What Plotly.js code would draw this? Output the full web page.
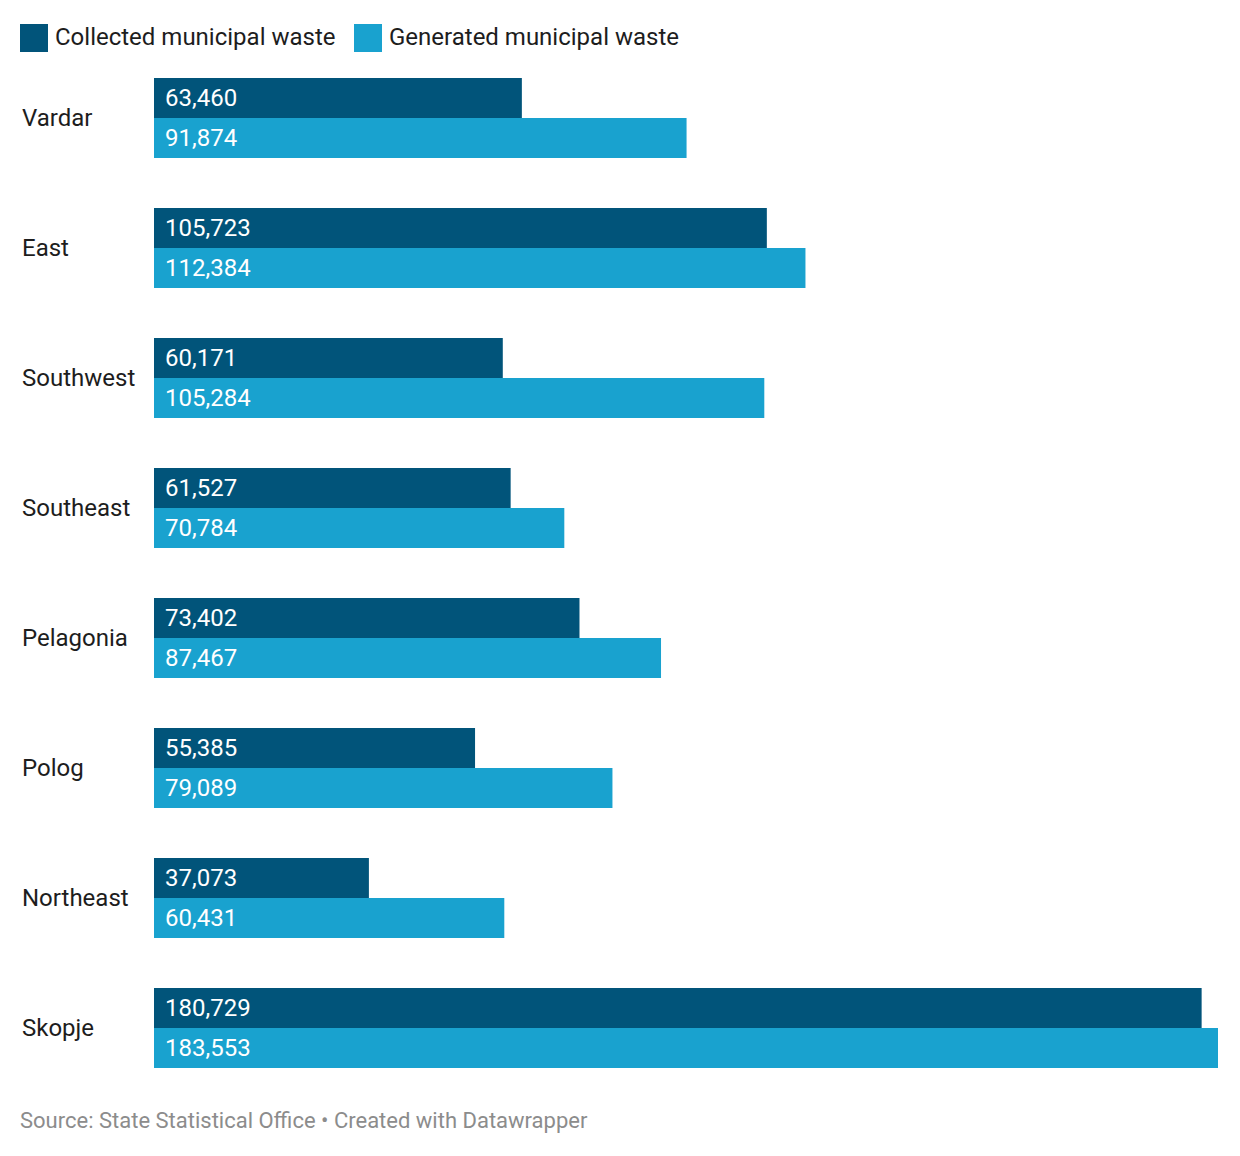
<!DOCTYPE html>
<html>
<head>
<meta charset="utf-8">
<script src="https://cdn.plot.ly/plotly-3.0.1.min.js"></script>
<style>
  html, body { margin: 0; padding: 0; background: #fff; }
  #chart { width: 1240px; height: 1156px; }
</style>
</head>
<body>
<div id="chart"></div>
<script>
const regions = ["Vardar", "East", "Southwest", "Southeast", "Pelagonia", "Polog", "Northeast", "Skopje"];
const collected = [63460, 105723, 60171, 61527, 73402, 55385, 37073, 180729];
const generated = [91874, 112384, 105284, 70784, 87467, 79089, 60431, 183553];
const seriesNames = ["Collected municipal waste", "Generated municipal waste"];
const seriesColors = ["#01547a", "#19a2cf"];
const sourceText = "Source: State Statistical Office • Created with Datawrapper";

const W = 1240, H = 1156;
const mL = 154, mR = 22, mT = 53, mB = 63;
const pw = W - mL - mR, ph = H - mT - mB;
const px = x => (x - mL) / pw;
const py = y => (H - mB - y) / ph;

const fmt = v => v.toLocaleString('en-US');

const traces = [
  { type: 'bar', orientation: 'h', name: seriesNames[0], y: regions, x: collected,
    marker: { color: seriesColors[0] }, hoverinfo: 'none' },
  { type: 'bar', orientation: 'h', name: seriesNames[1], y: regions, x: generated,
    marker: { color: seriesColors[1] }, hoverinfo: 'none' }
];

const annotations = [];
regions.forEach((r, i) => {
  annotations.push({ x: 0, y: r, xref: 'x', yref: 'y', text: fmt(collected[i]), showarrow: false,
    xanchor: 'left', yanchor: 'middle', xshift: 9, yshift: 20,
    font: { family: 'Roboto', size: 24, color: '#ffffff' } });
  annotations.push({ x: 0, y: r, xref: 'x', yref: 'y', text: fmt(generated[i]), showarrow: false,
    xanchor: 'left', yanchor: 'middle', xshift: 9, yshift: -20,
    font: { family: 'Roboto', size: 24, color: '#ffffff' } });
  annotations.push({ x: px(22), y: r, xref: 'paper', yref: 'y', text: r, showarrow: false,
    xanchor: 'left', yanchor: 'middle', xshift: -2,
    font: { family: 'Roboto', size: 24, color: '#1d1d1d' } });
});

const legendSquares = [20, 354];
const shapes = [];
seriesNames.forEach((n, i) => {
  const x0 = legendSquares[i];
  shapes.push({ type: 'rect', xref: 'paper', yref: 'paper',
    x0: px(x0), x1: px(x0 + 28), y0: py(52), y1: py(24),
    fillcolor: seriesColors[i], line: { width: 0 } });
  annotations.push({ x: px(x0 + 33), y: py(37), xref: 'paper', yref: 'paper', text: n,
    showarrow: false, xanchor: 'left', yanchor: 'middle', xshift: 0,
    font: { family: 'Roboto', size: 24, color: '#1d1d1d' } });
});

annotations.push({ x: px(20), y: py(1120), xref: 'paper', yref: 'paper', text: sourceText,
  showarrow: false, xanchor: 'left', yanchor: 'middle', xshift: -2,
  font: { family: 'Roboto', size: 22, color: '#8c8c8c' } });

const layout = {
  width: W, height: H,
  margin: { l: mL, r: mR, t: mT, b: mB, pad: 0 },
  paper_bgcolor: '#ffffff', plot_bgcolor: '#ffffff',
  font: { family: 'Roboto', size: 24, color: '#1d1d1d' },
  barmode: 'group', bargap: 50 / 130, bargroupgap: 0,
  showlegend: false,
  xaxis: { range: [0, 183553], showgrid: false, zeroline: false, showticklabels: false,
    ticks: '', showline: false, fixedrange: true },
  yaxis: { autorange: 'reversed', showgrid: false, zeroline: false, showticklabels: false,
    ticks: '', showline: false, fixedrange: true },
  annotations: annotations,
  shapes: shapes
};

Plotly.newPlot('chart', traces, layout, { displayModeBar: false, staticPlot: true });
</script>
</body>
</html>
